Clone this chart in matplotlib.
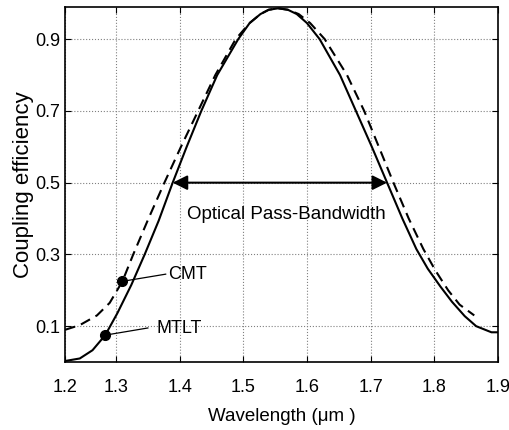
import matplotlib.pyplot as plt

plt.rcParams['font.family'] = ['Liberation Sans', 'DejaVu Sans']

# MTLT (solid) curve
mtlt_x = [1.22, 1.243, 1.263, 1.283, 1.302, 1.324, 1.345, 1.367, 1.389, 1.411, 1.434,
          1.459, 1.492, 1.51, 1.527, 1.54, 1.555, 1.57, 1.584, 1.60, 1.62, 1.652,
          1.677, 1.702, 1.726, 1.75, 1.772, 1.79, 1.81, 1.828, 1.848, 1.866, 1.89, 1.9]
mtlt_y = [0.003, 0.01, 0.033, 0.075, 0.136, 0.215, 0.30, 0.394, 0.50, 0.60, 0.70,
          0.80, 0.90, 0.945, 0.97, 0.982, 0.986, 0.982, 0.97, 0.945, 0.90, 0.80,
          0.70, 0.60, 0.50, 0.40, 0.315, 0.26, 0.21, 0.168, 0.128, 0.10, 0.083, 0.083]

# CMT (dashed) curve
cmt_x = [1.22, 1.243, 1.27, 1.29, 1.31, 1.327, 1.351, 1.376, 1.402, 1.429, 1.456,
         1.488, 1.51, 1.527, 1.54, 1.555, 1.57, 1.587, 1.605, 1.628, 1.663, 1.69,
         1.713, 1.736, 1.76, 1.783, 1.802, 1.822, 1.84, 1.863]
cmt_y = [0.09, 0.103, 0.13, 0.165, 0.225, 0.30, 0.40, 0.50, 0.60, 0.70, 0.80,
         0.90, 0.945, 0.97, 0.982, 0.986, 0.982, 0.97, 0.945, 0.90, 0.80, 0.70,
         0.60, 0.50, 0.40, 0.315, 0.255, 0.20, 0.16, 0.13]

xticks = [1.22, 1.3, 1.4, 1.5, 1.6, 1.7, 1.8, 1.9]
xtick_labels = ['1.2', '1.3', '1.4', '1.5', '1.6', '1.7', '1.8', '1.9']
yticks = [0.1, 0.3, 0.5, 0.7, 0.9]

band = (1.389, 1.726)

fig = plt.figure(figsize=(5.09, 4.30), dpi=100)
ax = fig.add_axes([0.128, 0.158, 0.85, 0.826])

ax.plot(mtlt_x, mtlt_y, color='black', lw=1.5)
ax.plot(cmt_x, cmt_y, color='black', lw=1.5, ls=(0, (5, 3)))

# labelled points
ax.plot([1.283], [0.075], 'o', color='black', ms=7)
ax.plot([1.31], [0.225], 'o', color='black', ms=7)
ax.plot([1.283, 1.35], [0.075, 0.095], color='black', lw=0.9)
ax.plot([1.31, 1.378], [0.225, 0.245], color='black', lw=0.9)
ax.text(1.382, 0.243, 'CMT', fontsize=13, va='center', ha='left')
ax.text(1.364, 0.093, 'MTLT', fontsize=13, va='center', ha='left')

# bandwidth arrow
ax.annotate('', xy=(band[0], 0.5), xytext=(band[1], 0.5),
            arrowprops=dict(arrowstyle='<|-|>', color='black', lw=1.5,
                            mutation_scale=22, shrinkA=0, shrinkB=0))
ax.text(1.568, 0.41, 'Optical Pass-Bandwidth', fontsize=13.5, ha='center', va='center')

ax.set_xlim(1.22, 1.9)
ax.set_ylim(0, 0.99)
ax.set_xticks(xticks)
ax.set_xticklabels(xtick_labels)
ax.set_yticks(yticks)
ax.tick_params(direction='in', length=4, labelsize=13, top=True, right=True)
ax.tick_params(axis='x', pad=12)
ax.grid(True, ls=':', color='gray', lw=0.8)
for s in ax.spines.values():
    s.set_linewidth(1.2)

ax.set_xlabel('Wavelength (μm )', fontsize=13.5, labelpad=9)
ax.set_ylabel('Coupling efficiency', fontsize=16, labelpad=1)

fig.savefig('out.png', dpi=100)
